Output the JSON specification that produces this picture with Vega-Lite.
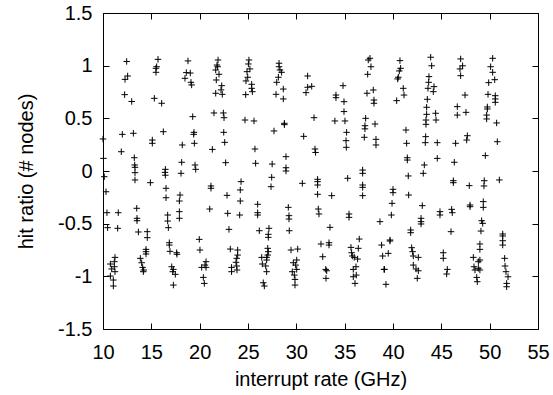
{
  "$schema": "https://vega.github.io/schema/vega-lite/v6.json",
  "width": 435,
  "height": 316,
  "autosize": {"type": "none"},
  "padding": {"left": 103, "top": 13, "right": 15, "bottom": 66},
  "background": "white",
  "config": {
    "view": {"stroke": "black", "strokeWidth": 1},
    "font": "Liberation Sans",
    "axis": {
      "grid": false,
      "domain": false,
      "tickColor": "black",
      "tickSize": -6,
      "tickWidth": 1,
      "labelFlush": false,
      "labelFont": "Liberation Sans",
      "labelFontSize": 20,
      "labelColor": "black",
      "titleFont": "Liberation Sans",
      "titleFontSize": 20,
      "titleFontWeight": "normal",
      "titleColor": "black"
    }
  },
  "data": {"values": [
    {"x":12.45,"y":1.04},{"x":15.69,"y":1.06},{"x":18.79,"y":1.045},{"x":21.9,"y":1.054},{"x":15.55,"y":0.99},{"x":15.48,"y":0.975},{"x":21.79,"y":1.006},{"x":21.86,"y":0.99},{"x":12.55,"y":0.902},{"x":12.28,"y":0.87},{"x":15.48,"y":0.937},{"x":18.62,"y":0.934},{"x":19.03,"y":0.93},{"x":21.66,"y":0.959},{"x":22.0,"y":0.918},{"x":18.48,"y":0.88},{"x":19.1,"y":0.842},{"x":19.17,"y":0.817},{"x":21.72,"y":0.864},{"x":22.28,"y":0.81},{"x":22.21,"y":0.77},{"x":22.34,"y":0.728},{"x":21.66,"y":0.738},{"x":12.24,"y":0.725},{"x":12.97,"y":0.66},{"x":15.31,"y":0.69},{"x":16.07,"y":0.643},{"x":19.28,"y":0.516},{"x":21.48,"y":0.551},{"x":22.45,"y":0.551},{"x":22.52,"y":0.506},{"x":12.0,"y":0.348},{"x":13.14,"y":0.358},{"x":16.24,"y":0.373},{"x":19.41,"y":0.367},{"x":19.38,"y":0.348},{"x":22.49,"y":0.367},{"x":15.1,"y":0.294},{"x":15.1,"y":0.263},{"x":19.45,"y":0.263},{"x":18.2,"y":0.247},{"x":22.59,"y":0.272},{"x":11.89,"y":0.183},{"x":21.31,"y":0.205},{"x":13.24,"y":0.126},{"x":13.28,"y":0.057},{"x":13.31,"y":0.035},{"x":18.14,"y":0.083},{"x":19.52,"y":0.057},{"x":19.59,"y":0.016},{"x":22.69,"y":0.079},{"x":13.31,"y":-0.016},{"x":16.45,"y":0.016},{"x":16.41,"y":-0.013},{"x":18.07,"y":-0.022},{"x":10.0,"y":0.304},{"x":10.05,"y":0.12},
    {"x":13.31,"y":-0.085},{"x":16.45,"y":-0.04},{"x":10.13,"y":-0.054},{"x":14.9,"y":-0.111},{"x":21.17,"y":-0.142},{"x":21.17,"y":-0.164},{"x":16.52,"y":-0.164},{"x":10.31,"y":-0.197},{"x":16.52,"y":-0.254},{"x":17.97,"y":-0.228},{"x":17.9,"y":-0.285},{"x":22.83,"y":-0.231},{"x":13.49,"y":-0.354},{"x":21.04,"y":-0.361},{"x":10.41,"y":-0.396},{"x":11.58,"y":-0.396},{"x":22.9,"y":-0.402},{"x":13.52,"y":-0.449},{"x":13.52,"y":-0.472},{"x":16.69,"y":-0.418},{"x":16.69,"y":-0.475},{"x":17.9,"y":-0.386},{"x":17.9,"y":-0.449},{"x":10.48,"y":-0.538},{"x":11.52,"y":-0.544},{"x":16.76,"y":-0.538},{"x":23.03,"y":-0.554},{"x":13.66,"y":-0.579},{"x":14.58,"y":-0.576},{"x":14.58,"y":-0.633},{"x":19.96,"y":-0.649},{"x":16.86,"y":-0.681},{"x":16.86,"y":-0.703},{"x":20.03,"y":-0.75},{"x":14.45,"y":-0.744},{"x":14.45,"y":-0.766},{"x":14.45,"y":-0.788},{"x":16.93,"y":-0.763},{"x":17.62,"y":-0.776},{"x":17.65,"y":-0.791},{"x":23.17,"y":-0.741},{"x":11.24,"y":-0.82},{"x":11.17,"y":-0.861},{"x":10.76,"y":-0.883},{"x":11.17,"y":-0.909},{"x":10.9,"y":-0.93},{"x":11.24,"y":-0.956},{"x":10.76,"y":-0.997},{"x":11.07,"y":-1.035},{"x":11.07,"y":-1.092},{"x":13.86,"y":-0.829},{"x":14.0,"y":-0.871},{"x":14.1,"y":-0.915},{"x":14.21,"y":-0.94},{"x":14.17,"y":-0.956},{"x":17.11,"y":-0.909},{"x":17.28,"y":-0.934},{"x":17.21,"y":-0.956},{"x":17.48,"y":-0.981},{"x":17.28,"y":-1.083},{"x":20.66,"y":-0.861},{"x":20.55,"y":-0.893},{"x":20.21,"y":-0.915},{"x":20.66,"y":-0.915},{"x":20.38,"y":-1.01},{"x":20.48,"y":-1.067},{"x":23.3,"y":-0.915},{"x":23.3,"y":-0.956},
    {"x":25.1,"y":1.054},{"x":25.04,"y":1.016},{"x":25.2,"y":0.969},{"x":24.9,"y":0.943},{"x":24.97,"y":0.89},{"x":24.79,"y":0.855},{"x":25.38,"y":0.823},{"x":25.38,"y":0.785},{"x":25.45,"y":0.753},{"x":24.76,"y":0.725},{"x":28.21,"y":1.023},{"x":28.21,"y":0.99},{"x":28.31,"y":0.959},{"x":28.48,"y":0.937},{"x":28.14,"y":0.89},{"x":27.97,"y":0.842},{"x":28.65,"y":0.778},{"x":27.9,"y":0.728},{"x":28.65,"y":0.684},{"x":31.17,"y":0.902},{"x":31.17,"y":0.795},{"x":31.59,"y":0.804},{"x":31.0,"y":0.744},{"x":34.83,"y":0.81},{"x":34.1,"y":0.721},{"x":34.1,"y":0.696},{"x":34.93,"y":0.658},{"x":24.69,"y":0.484},{"x":25.62,"y":0.475},{"x":28.76,"y":0.453},{"x":28.76,"y":0.44},{"x":27.69,"y":0.38},{"x":31.83,"y":0.506},{"x":30.76,"y":0.329},{"x":33.99,"y":0.475},{"x":35.03,"y":0.475},{"x":34.93,"y":0.564},{"x":35.2,"y":0.367},{"x":35.14,"y":0.288},{"x":35.17,"y":0.225},{"x":25.72,"y":0.209},{"x":25.79,"y":0.073},{"x":27.5,"y":0.066},{"x":31.93,"y":0.209},{"x":31.99,"y":0.176},{"x":28.93,"y":0.136},{"x":28.93,"y":0.031},{"x":28.93,"y":0.0},{"x":37.62,"y":1.07},{"x":37.44,"y":1.054},{"x":37.72,"y":0.99},{"x":37.38,"y":0.918},{"x":37.31,"y":0.738},{"x":37.96,"y":0.769},{"x":37.17,"y":0.5},{"x":37.1,"y":0.43},{"x":37.1,"y":0.4},{"x":37.03,"y":0.32},{"x":36.86,"y":0.009},{"x":36.86,"y":-0.022},
    {"x":38.03,"y":0.674},{"x":38.03,"y":0.643},{"x":38.14,"y":0.446},{"x":38.24,"y":0.301},{"x":38.24,"y":0.247},{"x":40.72,"y":1.048},{"x":40.79,"y":0.975},{"x":40.65,"y":0.95},{"x":40.55,"y":0.89},{"x":40.48,"y":0.874},{"x":41.06,"y":0.785},{"x":41.14,"y":0.721},{"x":40.38,"y":0.668},{"x":41.34,"y":0.389},{"x":41.41,"y":0.263},{"x":41.48,"y":0.126},{"x":41.48,"y":0.104},{"x":43.24,"y":0.057},{"x":43.13,"y":-0.022},{"x":43.9,"y":1.08},{"x":44.0,"y":0.999},{"x":43.72,"y":0.896},{"x":43.69,"y":0.842},{"x":44.24,"y":0.801},{"x":43.62,"y":0.785},{"x":44.17,"y":0.753},{"x":43.55,"y":0.681},{"x":43.48,"y":0.605},{"x":43.48,"y":0.538},{"x":43.41,"y":0.484},{"x":43.41,"y":0.443},{"x":44.41,"y":0.548},{"x":44.45,"y":0.484},{"x":43.38,"y":0.326},{"x":43.34,"y":0.269},{"x":44.58,"y":0.269},{"x":44.58,"y":0.12},{"x":47.0,"y":1.064},{"x":47.2,"y":0.999},{"x":46.93,"y":0.969},{"x":47.0,"y":0.905},{"x":47.45,"y":0.721},{"x":46.65,"y":0.611},{"x":46.65,"y":0.531},{"x":47.55,"y":0.557},{"x":47.69,"y":0.335},{"x":47.62,"y":0.294},{"x":46.48,"y":0.263},{"x":46.34,"y":0.083},{"x":50.31,"y":1.07},{"x":50.1,"y":0.99},{"x":50.31,"y":0.937},{"x":50.52,"y":0.867},{"x":49.9,"y":0.839},{"x":49.83,"y":0.728},{"x":50.58,"y":0.715},{"x":50.58,"y":0.684},{"x":50.58,"y":0.652},{"x":49.76,"y":0.608},{"x":49.76,"y":0.589},{"x":49.69,"y":0.531},{"x":49.69,"y":0.494},{"x":50.72,"y":0.456},{"x":50.79,"y":0.278},{"x":49.55,"y":0.146},
    {"x":24.28,"y":-0.101},{"x":24.2,"y":-0.18},{"x":24.2,"y":-0.285},{"x":24.14,"y":-0.418},{"x":27.45,"y":-0.06},{"x":27.38,"y":-0.149},{"x":30.62,"y":-0.117},{"x":32.2,"y":-0.079},{"x":32.2,"y":-0.101},{"x":32.2,"y":-0.133},{"x":32.2,"y":-0.221},{"x":33.66,"y":-0.234},{"x":35.31,"y":-0.069},{"x":36.86,"y":-0.133},{"x":36.86,"y":-0.155},{"x":36.86,"y":-0.234},{"x":26.0,"y":-0.316},{"x":26.0,"y":-0.396},{"x":26.0,"y":-0.418},{"x":29.17,"y":-0.345},{"x":29.24,"y":-0.424},{"x":29.24,"y":-0.456},{"x":32.27,"y":-0.361},{"x":32.34,"y":-0.408},{"x":35.45,"y":-0.408},{"x":35.45,"y":-0.44},{"x":26.17,"y":-0.567},{"x":27.17,"y":-0.544},{"x":27.1,"y":-0.601},{"x":27.1,"y":-0.63},{"x":29.27,"y":-0.567},{"x":33.48,"y":-0.535},{"x":32.55,"y":-0.693},{"x":33.38,"y":-0.681},{"x":33.38,"y":-0.703},{"x":36.51,"y":-0.646},{"x":23.93,"y":-0.75},{"x":23.93,"y":-0.798},{"x":23.83,"y":-0.829},{"x":23.76,"y":-0.867},{"x":23.83,"y":-0.902},{"x":23.86,"y":-0.94},{"x":27.04,"y":-0.734},{"x":27.1,"y":-0.766},{"x":27.04,"y":-0.798},{"x":26.42,"y":-0.82},{"x":26.93,"y":-0.82},{"x":26.93,"y":-0.845},{"x":26.48,"y":-0.883},{"x":26.83,"y":-0.902},{"x":26.93,"y":-0.956},{"x":26.58,"y":-1.061},{"x":26.69,"y":-1.092},{"x":29.45,"y":-0.75},{"x":30.14,"y":-0.741},{"x":30.04,"y":-0.845},{"x":29.69,"y":-0.871},{"x":29.93,"y":-0.893},{"x":30.04,"y":-0.934},{"x":29.58,"y":-0.956},{"x":29.79,"y":-0.988},{"x":29.86,"y":-1.029},{"x":29.86,"y":-1.083},{"x":32.73,"y":-0.814},{"x":33.04,"y":-0.934},{"x":33.14,"y":-0.947},{"x":33.07,"y":-1.019},{"x":35.65,"y":-0.725},{"x":36.41,"y":-0.734},{"x":35.72,"y":-0.776},{"x":35.79,"y":-0.807},{"x":35.99,"y":-0.82},{"x":36.34,"y":-0.836},{"x":36.17,"y":-0.909},{"x":35.89,"y":-0.934},{"x":36.2,"y":-0.988},{"x":35.89,"y":-1.004},{"x":36.07,"y":-1.067},
    {"x":41.58,"y":-0.047},{"x":40.0,"y":-0.174},{"x":40.0,"y":-0.206},{"x":39.9,"y":-0.307},{"x":39.83,"y":-0.418},{"x":38.65,"y":-0.481},{"x":41.62,"y":-0.228},{"x":43.03,"y":-0.329},{"x":42.9,"y":-0.449},{"x":42.9,"y":-0.481},{"x":42.9,"y":-0.503},{"x":41.83,"y":-0.56},{"x":41.83,"y":-0.586},{"x":39.69,"y":-0.655},{"x":39.69,"y":-0.665},{"x":38.82,"y":-0.703},{"x":38.93,"y":-0.807},{"x":39.51,"y":-0.782},{"x":39.07,"y":-0.934},{"x":39.12,"y":-0.934},{"x":39.27,"y":-1.076},{"x":41.93,"y":-0.728},{"x":42.03,"y":-0.766},{"x":42.1,"y":-0.807},{"x":42.62,"y":-0.82},{"x":42.1,"y":-0.893},{"x":42.38,"y":-0.93},{"x":42.62,"y":-0.947},{"x":42.51,"y":-1.019},{"x":44.86,"y":-0.386},{"x":44.86,"y":-0.418},{"x":46.07,"y":-0.364},{"x":46.13,"y":-0.396},{"x":46.0,"y":-0.576},{"x":45.2,"y":-0.776},{"x":45.2,"y":-0.829},{"x":45.62,"y":-0.934},{"x":45.55,"y":-0.978},{"x":46.24,"y":-0.092},{"x":46.24,"y":-0.111},{"x":47.89,"y":-0.139},{"x":49.44,"y":-0.092},{"x":49.41,"y":-0.142},{"x":51.0,"y":-0.085},{"x":47.97,"y":-0.323},{"x":47.97,"y":-0.339},{"x":49.34,"y":-0.291},{"x":49.34,"y":-0.345},{"x":49.17,"y":-0.472},{"x":49.28,"y":-0.497},{"x":49.1,"y":-0.57},{"x":48.99,"y":-0.693},{"x":48.99,"y":-0.744},{"x":48.31,"y":-0.82},{"x":48.99,"y":-0.845},{"x":48.83,"y":-0.861},{"x":48.38,"y":-0.909},{"x":48.83,"y":-0.924},{"x":48.48,"y":-0.94},{"x":48.99,"y":-0.94},{"x":48.66,"y":-1.01},{"x":48.72,"y":-1.051},{"x":51.35,"y":-0.598},{"x":51.35,"y":-0.617},{"x":51.35,"y":-0.662},{"x":51.35,"y":-0.703},{"x":51.55,"y":-0.829},{"x":51.59,"y":-0.902},{"x":51.69,"y":-0.956},{"x":51.9,"y":-1.004},{"x":51.76,"y":-1.067},{"x":51.76,"y":-1.099}
  ]},
  "layer": [
    {
      "mark": {"type": "point", "shape": "M-1,0H1M0,-1V1", "size": 42, "stroke": "black", "strokeWidth": 1, "filled": false, "opacity": 1},
      "encoding": {
        "x": {"field": "x", "type": "quantitative",
              "scale": {"domain": [10, 55], "nice": false, "zero": false},
              "axis": {"orient": "bottom", "values": [10,15,20,25,30,35,40,45,50,55], "labelExpr": "'' + datum.value", "labelPadding": 19, "title": "interrupt rate (GHz)", "titlePadding": 7}},
        "y": {"field": "y", "type": "quantitative",
              "scale": {"domain": [-1.5, 1.5], "nice": false, "zero": false},
              "axis": {"orient": "left", "values": [-1.5,-1,-0.5,0,0.5,1,1.5], "labelExpr": "'' + datum.value", "labelPadding": 17, "title": "hit ratio (# nodes)", "titlePadding": 21}}
      }
    },
    {
      "mark": {"type": "point", "opacity": 0},
      "encoding": {
        "x": {"field": "x", "type": "quantitative",
              "axis": {"orient": "top", "values": [10,15,20,25,30,35,40,45,50,55], "labels": false, "title": null}},
        "y": {"field": "y", "type": "quantitative",
              "axis": {"orient": "right", "values": [-1.5,-1,-0.5,0,0.5,1,1.5], "labels": false, "title": null}}
      }
    }
  ],
  "resolve": {"axis": {"x": "independent", "y": "independent"}}
}
